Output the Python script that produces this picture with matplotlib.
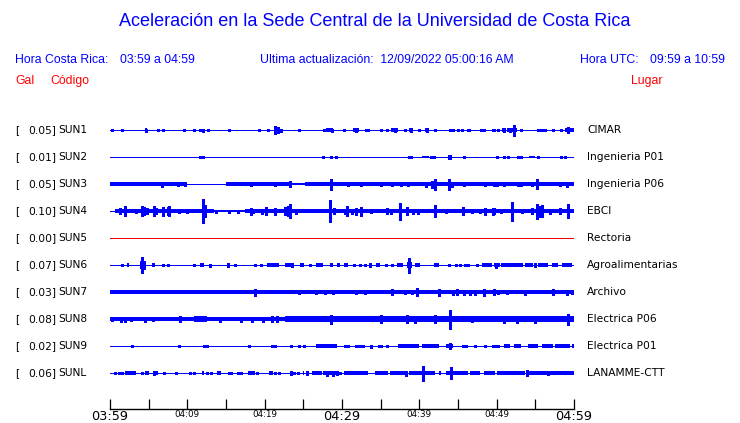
import matplotlib
matplotlib.use("Agg")
import matplotlib.pyplot as plt

# station table
codes = ["SUN1", "SUN2", "SUN3", "SUN4", "SUN5", "SUN6", "SUN7", "SUN8", "SUN9", "SUNL"]
gal = [0.05, 0.01, 0.05, 0.10, 0.00, 0.07, 0.03, 0.08, 0.02, 0.06]
places = ["CIMAR", "Ingenieria P01", "Ingenieria P06", "EBCI", "Rectoria",
          "Agroalimentarias", "Archivo", "Electrica P06", "Electrica P01", "LANAMME-CTT"]

tick_minutes = list(range(0, 61, 5))
tick_labels = ["03:59", "", "04:09", "", "04:19", "", "04:29", "", "04:39", "", "04:49", "", "04:59"]

# envelopes: bands (t0, t1, half amplitude), peaks (t, half amplitude)
# t in minutes after 03:59, amplitude in pixels of the original trace
sun1_bands = [(4.5, 4.8, 1.3), (27.9, 28.9, 1.3), (31.4, 32.2, 1.3), (36.3, 37.2, 1.5),
              (38.6, 39.2, 1.3), (40.7, 41.3, 1.3), (46.2, 46.6, 1.2), (49.4, 49.9, 1.2),
              (50.7, 51.2, 1.3), (51.4, 52.0, 1.3), (52.0, 52.6, 1.8), (55.2, 55.8, 1.2),
              (58.8, 60, 1.5)]
sun1_peaks = [(0.3, 1), (1.5, 1), (4.7, 1.5), (6.2, 0.8), (6.8, 1.2), (9.6, 0.8), (10.8, 0.8),
              (11.6, 1), (12.0, 1.5), (12.7, 1), (15.4, 1), (19.3, 1), (20.4, 0.8), (21.4, 4),
              (21.7, 3), (22.1, 1.5), (24.4, 1), (27.7, 1), (28.0, 1.2), (28.7, 1.5), (30.3, 0.8),
              (31.8, 1.5), (33.1, 1), (33.3, 1), (35.0, 1), (35.8, 1), (36.8, 1.5), (38.2, 1),
              (38.9, 1.5), (39.9, 1), (41.0, 1.5), (42.0, 1), (44.0, 1), (44.4, 1), (45.0, 1),
              (45.5, 0.8), (46.4, 1.2), (48.0, 1), (48.4, 1), (49.6, 1.2), (50.2, 1), (50.9, 1.5),
              (51.7, 1.5), (52.3, 5.5), (53.1, 1.2), (55.4, 1.2), (55.8, 1), (56.3, 1), (57.3, 0.8),
              (58.3, 0.8), (59.2, 3)]

sun2_bands = [(40.4, 41.2, 1.0), (54.2, 54.9, 1.0)]
sun2_peaks = [(11.7, 1.3), (12.0, 1.3), (27.6, 1.3), (28.6, 1.3), (29.2, 1.2), (38.6, 1.3),
              (38.9, 1), (41.5, 1.2), (41.9, 1.2), (43.8, 2.3), (44.0, 2.3), (45.8, 1),
              (50.0, 1), (50.9, 1.3), (51.5, 1), (52.8, 1.2), (53.1, 1.2),
              (55.3, 1.2), (58.3, 1.2), (58.8, 1.2)]

sun3_bands = [(0, 9.9, 1.5), (15.0, 23.5, 1.5), (23.5, 25.2, 1.0), (25.2, 60, 1.8)]
sun3_peaks = [(6.7, 2.5), (8.8, 2), (9.7, 1.5), (18.2, 1.7), (21.3, 1.5), (23.3, 3), (28.6, 5.5),
              (30.8, 1.7), (32.5, 1.7), (35.0, 1.5), (36.5, 1.5), (37.6, 1.7), (38.5, 1.5),
              (40.8, 2.5), (41.6, 3.5), (42.0, 5.5), (43.9, 5.5), (44.2, 2.5), (45.8, 2.3),
              (48.5, 2.2), (49.6, 2), (50.1, 2.2), (51.0, 2), (52.8, 2.3), (53.2, 2.2), (54.6, 2.2),
              (55.2, 5), (58.2, 2), (59.1, 2.5)]

sun4_bands = [(0.7, 13.5, 1.7), (13.5, 17.5, 1.0), (17.5, 28.0, 1.7), (28.0, 60, 1.8)]
sun4_peaks = [(1.3, 3), (2.0, 5), (3.3, 2), (4.1, 5), (4.4, 4), (4.8, 3), (5.7, 5), (6.0, 3),
              (6.8, 4.5), (7.5, 4), (7.6, 5), (8.9, 2), (10.0, 2), (12.0, 12), (12.3, 6),
              (13.7, 1.5), (15.4, 1.5), (16.6, 1.5), (18.2, 3.5), (18.5, 2), (19.6, 2.5), (20.2, 4),
              (21.4, 3.5), (22.6, 4), (23.0, 5), (23.3, 7), (24.1, 2.5), (28.4, 11), (29.0, 3),
              (30.4, 2.5), (30.7, 5), (31.3, 2.5), (31.8, 3.5), (32.5, 4.5), (33.8, 1.5),
              (35.8, 3), (36.4, 2.5), (37.5, 8.5), (38.4, 4), (39.2, 2.5), (39.8, 2.5), (42.0, 6),
              (43.4, 1.5), (45.6, 4), (46.8, 2), (47.8, 2), (48.5, 3.5), (49.5, 3.5), (49.7, 3),
              (50.6, 2), (52.0, 9.5), (53.3, 1.8), (54.6, 3), (55.2, 7.5), (55.6, 5.5), (55.9, 6),
              (56.9, 2.5), (58.2, 3), (59.2, 7)]

sun5_bands = []
sun5_peaks = []

sun6_bands = [(2.2, 2.4, 1.3), (3.9, 4.3, 3.5), (5.4, 5.8, 1.3), (11.6, 12.1, 1.8),
              (20.3, 21.8, 1.3), (22.6, 23.5, 1.3), (24.6, 25.1, 1.5), (26.6, 27.5, 1.3),
              (28.4, 28.9, 1.3), (29.3, 29.7, 1.3), (30.3, 30.8, 1.5), (34.4, 34.9, 1.5),
              (37.1, 37.9, 1.3), (38.4, 39.0, 3), (39.5, 40.1, 1.5), (41.9, 42.5, 1.5),
              (48.1, 49.4, 1.5), (49.6, 50.4, 1.8), (50.6, 53.4, 1.8), (53.7, 54.7, 1.5),
              (55.4, 56.7, 1.5), (57.1, 57.9, 1.3), (58.5, 59.7, 1.5)]
sun6_peaks = [(1.5, 1), (4.2, 8), (4.4, 4), (6.8, 1.3), (7.5, 1), (10.8, 1), (12.9, 1.5),
              (15.2, 2), (16.2, 1.3), (18.8, 1.3), (19.5, 1.2), (23.5, 2), (25.9, 1.3), (31.5, 1.3),
              (32.3, 1.2), (33.0, 1.2), (33.6, 2), (35.7, 1), (36.5, 1.2), (38.6, 7.5), (43.9, 1),
              (44.7, 1), (45.3, 1), (45.9, 1), (46.3, 1), (47.4, 1.2), (49.9, 2.5), (55.0, 2)]

sun7_bands = [(0, 18.5, 1.3), (18.5, 60, 1.7)]
sun7_peaks = [(18.8, 3.5), (24.4, 2.3), (26.6, 2.2), (27.8, 2.3), (28.9, 2), (31.8, 1.7),
              (33.0, 1.5), (36.5, 3), (38.1, 2), (39.0, 2.3), (39.7, 4), (42.5, 3.5), (44.4, 2.5),
              (44.9, 3), (45.8, 2.5), (46.6, 2.5), (47.2, 2.5), (48.4, 3.5), (49.6, 3), (50.2, 2),
              (51.3, 1.8), (53.6, 2.5), (57.3, 3), (59.1, 2.5), (59.7, 2)]

sun8_bands = [(0, 22.6, 2.0), (22.6, 60, 2.7), (10.8, 12.5, 2.7), (23.1, 25.2, 3),
              (30.4, 33.8, 3)]
sun8_peaks = [(0.3, 2), (1.4, 2.5), (2.0, 2.5), (2.7, 2.2), (4.5, 2.5), (5.6, 2.2), (9.1, 2.8),
              (14.2, 2.5), (17.0, 2.5), (18.3, 2.5), (19.8, 2.5), (20.9, 2.7), (21.6, 2.7),
              (28.6, 4.5), (35.0, 4), (38.4, 4), (39.4, 3.5), (42.0, 4), (44.0, 9.5), (46.8, 3),
              (51.0, 3.5), (52.6, 3.5), (55.0, 3.5), (59.2, 5.5)]

sun9_bands = [(26.7, 29.3, 1.3), (30.3, 31.0, 1.2), (32.1, 33.0, 1.2), (34.7, 35.3, 1.2),
              (37.3, 39.9, 1.3), (40.3, 42.5, 1.3), (43.5, 44.4, 1.8), (45.5, 46.3, 1.2),
              (49.4, 50.4, 1.2), (50.9, 51.7, 1.3), (52.2, 53.2, 1.3), (54.0, 55.4, 1.3),
              (55.9, 57.3, 1.3), (57.5, 59.5, 1.3), (59.7, 60, 1.3)]
sun9_peaks = [(2.9, 1), (8.9, 1), (12.2, 1.3), (12.5, 1.3), (18.0, 1), (20.9, 1), (21.3, 1),
              (23.4, 1), (24.4, 1.2), (25.1, 1), (31.8, 1), (33.8, 1.5), (35.8, 1.3), (44.0, 3),
              (47.2, 1.3), (48.5, 1)]

sunl_bands = [(2.0, 3.4, 1.3), (4.5, 5.0, 1.5), (5.5, 6.2, 1.5), (11.9, 12.2, 1.3),
              (13.9, 14.4, 1.5), (17.8, 18.7, 1.5), (20.6, 21.1, 1.5), (24.9, 25.1, 1.3),
              (26.1, 27.4, 1.3), (27.6, 29.5, 1.7), (30.2, 33.4, 1.5), (34.3, 36.0, 1.3),
              (36.2, 38.4, 1.5), (38.6, 40.3, 1.5), (40.3, 40.7, 3), (40.7, 42.0, 1.5),
              (42.5, 42.8, 1.5), (43.5, 44.4, 2), (44.4, 46.3, 1.3), (46.6, 47.8, 1.3),
              (48.3, 49.8, 1.5), (50.0, 53.7, 1.5), (54.1, 55.8, 1.5), (55.8, 60, 1.5)]
sunl_peaks = [(0.6, 1), (1.1, 1), (1.5, 1), (4.2, 1), (5.7, 2), (7.0, 1.2), (8.5, 1), (10.3, 0.8),
              (10.9, 1), (12.5, 1), (13.1, 1), (15.4, 1), (15.7, 1), (16.5, 1.3), (17.0, 1),
              (19.0, 1), (21.4, 1.2), (21.9, 1), (23.4, 2), (23.8, 1.2), (24.3, 1), (25.5, 1.7),
              (28.1, 2.5), (28.9, 2.5), (29.3, 2.2), (29.7, 1.3), (38.3, 2.5), (40.5, 7.5),
              (44.1, 6), (53.9, 2.7), (56.7, 2.2)]

bands = [sun1_bands, sun2_bands, sun3_bands, sun4_bands, sun5_bands,
         sun6_bands, sun7_bands, sun8_bands, sun9_bands, sunl_bands]
peaks = [sun1_peaks, sun2_peaks, sun3_peaks, sun4_peaks, sun5_peaks,
         sun6_peaks, sun7_peaks, sun8_peaks, sun9_peaks, sunl_peaks]

BLUE = "#0000ff"
RED = "#ff0000"
W, H = 740, 423
px = 1 / 27.0  # one pixel in row units
pen = 0.3      # extra half width of the drawing pen, pixels

fig = plt.figure(figsize=(7.4, 4.23), dpi=100)

# header texts
fig.text(375 / W, 1 - 22 / H, "Aceleración en la Sede Central de la Universidad de Costa Rica",
         ha="center", va="center", color=BLUE, fontsize=13, family="Liberation Sans")
hdr = dict(va="center", fontsize=8.8, family="Liberation Sans")
fig.text(15 / W, 1 - 60 / H, "Hora Costa Rica:", color=BLUE, ha="left", **hdr)
fig.text(120 / W, 1 - 60 / H, "03:59 a 04:59", color=BLUE, ha="left", **hdr)
fig.text(260 / W, 1 - 60 / H, "Ultima actualización:  12/09/2022 05:00:16 AM",
         color=BLUE, ha="left", **hdr)
fig.text(580 / W, 1 - 60 / H, "Hora UTC:", color=BLUE, ha="left", **hdr)
fig.text(725 / W, 1 - 60 / H, "09:59 a 10:59", color=BLUE, ha="right", **hdr)
fig.text(15 / W, 1 - 81 / H, "Gal", color=RED, ha="left", **hdr)
fig.text(50 / W, 1 - 81 / H, "Código", color=RED, ha="left", **hdr)
fig.text(662 / W, 1 - 81 / H, "Lugar", color=RED, ha="right", **hdr)

# trace panel
ax = fig.add_axes([110 / W, 14 / H, 464 / W, 294 / H])
ax.set_xlim(0, 60)
ax.set_ylim(10.333, -0.556)
for s in ["top", "left", "right"]:
    ax.spines[s].set_visible(False)
ax.spines["bottom"].set_linewidth(1.0)
ax.set_yticks([])
ax.set_xticks(tick_minutes)
ax.set_xticklabels(tick_labels)
ax.tick_params(axis="x", direction="in", length=7.5, width=0.9, pad=0.5, color="black")
for lab in ax.get_xticklabels():
    if lab.get_text() in ("03:59", "04:29", "04:59"):
        lab.set_fontsize(9.3)
    else:
        lab.set_fontsize(6.3)

for i, code in enumerate(codes):
    col = RED if gal[i] == 0 else BLUE
    ax.plot([0, 60], [i, i], color=col, lw=0.72, solid_capstyle="butt", antialiased=False)
    for t0, t1, h in bands[i]:
        ax.fill_between([t0, t1], i - (h + pen) * px, i + (h + pen) * px,
                        color=col, lw=0, antialiased=False)
    for t, h in peaks[i]:
        ax.vlines(t, i - h * px, i + h * px, color=col, lw=0.75, antialiased=False)

    yf = 1 - (130 + 27 * i) / H
    lbl = dict(va="center", fontsize=7.7, color="black")
    fig.text(15 / W, yf, "[", ha="left", **lbl)
    fig.text(56 / W, yf, f"{gal[i]:.2f}]", ha="right", **lbl)
    fig.text(58 / W, yf, code, ha="left", **lbl)
    fig.text(587 / W, yf, places[i], ha="left", **lbl)

fig.savefig("out.png", dpi=100)
